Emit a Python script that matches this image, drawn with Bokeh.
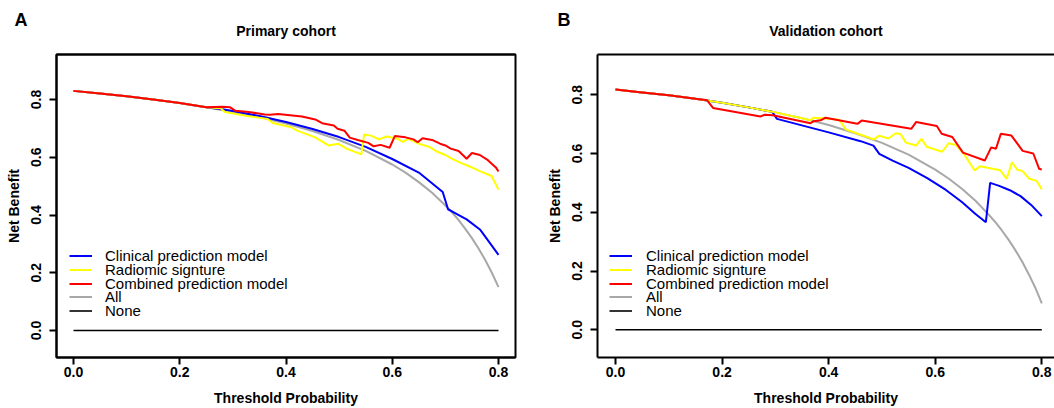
from bokeh.plotting import figure
from bokeh.layouts import row
from bokeh.models import (Range1d, FixedTicker, Legend, LegendItem, Title,
                          LinearAxis, NumeralTickFormatter)
from bokeh.embed import file_html
from bokeh.resources import INLINE

# ---------------- data ----------------
x_ticks = [0.0, 0.2, 0.4, 0.6, 0.8]
y_ticks = [0.0, 0.2, 0.4, 0.6, 0.8]
series_names = ["Clinical prediction model", "Radiomic signture",
                "Combined prediction model", "All", "None"]
none_t = [0.0, 0.8]
none_nb = [0.0, 0.0]

# Panel A - Primary cohort
A_all_t = [0, 0.05, 0.10, 0.15, 0.20, 0.25, 0.30, 0.35, 0.40, 0.45, 0.50, 0.55, 0.60,
           0.625, 0.65, 0.675, 0.70, 0.7125, 0.725, 0.7375, 0.75, 0.7625, 0.775, 0.7875, 0.80]
A_all = [0.830, 0.821, 0.811, 0.800, 0.788, 0.773, 0.757, 0.739, 0.717, 0.691, 0.660, 0.622, 0.575,
         0.547, 0.514, 0.477, 0.433, 0.409, 0.382, 0.352, 0.320, 0.284, 0.244, 0.200, 0.150]
A_clin_t = [0, 0.05, 0.10, 0.15, 0.20, 0.25, 0.28, 0.30, 0.35, 0.40, 0.45, 0.50, 0.55, 0.60,
            0.65, 0.695, 0.705, 0.72, 0.74, 0.765, 0.775, 0.80]
A_clin = [0.830, 0.821, 0.811, 0.800, 0.788, 0.773, 0.766, 0.760, 0.743, 0.722, 0.698, 0.670, 0.636, 0.594,
          0.547, 0.480, 0.420, 0.405, 0.385, 0.350, 0.325, 0.262]
A_rad_t = [0, 0.05, 0.10, 0.15, 0.20, 0.25, 0.277, 0.285, 0.33, 0.365, 0.375, 0.41, 0.42, 0.455,
           0.48, 0.498, 0.515, 0.542, 0.547, 0.56, 0.575, 0.59, 0.61, 0.62, 0.63, 0.65, 0.67,
           0.685, 0.70, 0.71, 0.73, 0.745, 0.765, 0.787, 0.80]
A_rad = [0.830, 0.821, 0.811, 0.800, 0.788, 0.773, 0.770, 0.757, 0.742, 0.733, 0.719, 0.704, 0.693, 0.669,
         0.641, 0.647, 0.629, 0.610, 0.679, 0.675, 0.662, 0.672, 0.664, 0.653, 0.664, 0.647, 0.636,
         0.619, 0.608, 0.597, 0.580, 0.569, 0.552, 0.535, 0.488]
A_comb_t = [0, 0.05, 0.10, 0.15, 0.20, 0.25, 0.28, 0.295, 0.305, 0.33, 0.36, 0.37, 0.385, 0.43,
            0.455, 0.468, 0.49, 0.497, 0.51, 0.52, 0.535, 0.555, 0.565, 0.578, 0.595, 0.605,
            0.625, 0.64, 0.648, 0.657, 0.675, 0.69, 0.70, 0.71, 0.725, 0.74, 0.75, 0.765,
            0.78, 0.795, 0.80]
A_comb = [0.830, 0.821, 0.811, 0.800, 0.788, 0.773, 0.775, 0.773, 0.761, 0.757, 0.748, 0.747, 0.750, 0.741,
          0.731, 0.718, 0.710, 0.699, 0.692, 0.668, 0.660, 0.650, 0.638, 0.643, 0.633, 0.674,
          0.669, 0.662, 0.652, 0.666, 0.660, 0.647, 0.641, 0.630, 0.622, 0.595, 0.615, 0.608,
          0.590, 0.565, 0.551]

# Panel B - Validation cohort
B_all_t = A_all_t
B_all = [0.818, 0.808, 0.798, 0.786, 0.773, 0.757, 0.740, 0.720, 0.697, 0.669, 0.636, 0.596, 0.545,
         0.515, 0.480, 0.440, 0.393, 0.367, 0.338, 0.307, 0.272, 0.234, 0.191, 0.144, 0.090]
B_clin_t = [0, 0.05, 0.10, 0.15, 0.20, 0.25, 0.294, 0.303, 0.40, 0.46, 0.484, 0.495, 0.52, 0.55,
            0.585, 0.62, 0.65, 0.675, 0.695, 0.703, 0.72, 0.74, 0.76, 0.78, 0.80]
B_clin = [0.818, 0.808, 0.798, 0.786, 0.773, 0.757, 0.742, 0.718, 0.672, 0.642, 0.627, 0.599, 0.576, 0.551,
          0.516, 0.476, 0.435, 0.395, 0.366, 0.500, 0.490, 0.475, 0.455, 0.425, 0.387]
B_rad_t = [0, 0.05, 0.10, 0.15, 0.20, 0.25, 0.30, 0.35, 0.365, 0.372, 0.40, 0.42, 0.432, 0.46,
           0.485, 0.495, 0.512, 0.526, 0.535, 0.545, 0.564, 0.574, 0.584, 0.613, 0.625, 0.639,
           0.654, 0.674, 0.684, 0.722, 0.734, 0.744, 0.754, 0.764, 0.776, 0.79, 0.80]
B_rad = [0.818, 0.808, 0.798, 0.786, 0.773, 0.757, 0.740, 0.720, 0.713, 0.722, 0.718, 0.715, 0.682, 0.664,
         0.648, 0.661, 0.651, 0.669, 0.666, 0.637, 0.627, 0.650, 0.623, 0.606, 0.635, 0.629,
         0.598, 0.542, 0.557, 0.543, 0.514, 0.570, 0.545, 0.540, 0.515, 0.507, 0.478]
B_comb_t = [0, 0.05, 0.10, 0.15, 0.172, 0.183, 0.272, 0.28, 0.295, 0.366, 0.372, 0.385, 0.394,
            0.454, 0.462, 0.555, 0.564, 0.603, 0.612, 0.632, 0.652, 0.693, 0.705, 0.714, 0.723,
            0.743, 0.764, 0.784, 0.795, 0.80]
B_comb = [0.818, 0.808, 0.798, 0.786, 0.781, 0.755, 0.726, 0.732, 0.730, 0.703, 0.710, 0.713, 0.722,
          0.701, 0.712, 0.684, 0.707, 0.694, 0.667, 0.656, 0.603, 0.576, 0.621, 0.616, 0.667,
          0.661, 0.609, 0.600, 0.548, 0.545]

COL_CLIN = "#0000FF"
COL_RAD = "#FFFF00"
COL_COMB = "#FF0000"
COL_ALL = "#A8A8A8"
COL_NONE = "#000000"
FONT = "Liberation Sans"

LEGEND_Y = [92.7, 79.0, 65.4, 51.7, 38.1]


def make_panel(letter, title, letter_off, xr, yr, ml, mr, data, outline,
               leg_x, leg_standoff):
    all_t, all_v, clin_t, clin_v, rad_t, rad_v, comb_t, comb_v = data
    p = figure(width=527, height=408, output_backend="svg", toolbar_location=None,
               x_range=Range1d(*xr), y_range=Range1d(*yr),
               min_border_left=ml, min_border_right=mr, min_border_top=54,
               min_border_bottom=51)
    p.title.text = ""
    p.xgrid.visible = False
    p.ygrid.visible = False
    p.background_fill_color = "white"
    p.border_fill_color = "white"
    p.outline_line_color = "black" if outline else None
    p.outline_line_width = 2

    xa = p.below[0]
    ya = p.left[0]
    for ax in (xa, ya):
        ax.axis_line_width = 2
        ax.major_tick_line_width = 2
        ax.major_tick_out = 7
        ax.major_tick_in = 0
        ax.minor_tick_line_color = None
        ax.major_label_text_font = FONT
        ax.major_label_text_font_style = "bold"
        ax.major_label_text_font_size = "14px"
        ax.major_label_text_color = "black"
        ax.axis_label_text_font = FONT
        ax.axis_label_text_font_style = "bold"
        ax.axis_label_text_font_size = "14px"
        ax.axis_label_text_color = "black"
        ax.formatter = NumeralTickFormatter(format="0.0")
    xa.ticker = FixedTicker(ticks=x_ticks)
    ya.ticker = FixedTicker(ticks=y_ticks)
    ya.major_label_orientation = "vertical"
    xa.axis_label = "Threshold Probability"
    ya.axis_label = "Net Benefit"
    xa.major_label_standoff = 2
    xa.axis_label_standoff = 10
    ya.major_label_standoff = 8
    ya.axis_label_standoff = 7

    # top border of the box, carrying the panel title
    top = LinearAxis(major_tick_line_color=None, minor_tick_line_color=None,
                     major_tick_out=0, major_tick_in=0,
                     major_label_text_font_size="0px", major_label_standoff=0,
                     axis_line_width=2, axis_line_color="black",
                     ticker=FixedTicker(ticks=[]),
                     axis_label=title, axis_label_standoff=16,
                     axis_label_text_font=FONT, axis_label_text_font_style="bold",
                     axis_label_text_font_size="14px", axis_label_text_color="black",
                     axis_label_text_line_height=1.0)
    p.add_layout(top, "above")

    # panel letter
    p.add_layout(Title(text=letter, align="left", offset=letter_off, standoff=-20,
                       text_font=FONT, text_font_style="bold", text_font_size="18px",
                       text_color="black"), "above")

    r_all = p.line(all_t, all_v, line_color=COL_ALL, line_width=2)
    r_none = p.line(none_t, none_nb, line_color=COL_NONE, line_width=1.6)
    r_clin = p.line(clin_t, clin_v, line_color=COL_CLIN, line_width=2)
    r_rad = p.line(rad_t, rad_v, line_color=COL_RAD, line_width=2)
    r_comb = p.line(comb_t, comb_v, line_color=COL_COMB, line_width=2)

    for name, r, ly in zip(series_names, [r_clin, r_rad, r_comb, r_all, r_none], LEGEND_Y):
        leg = Legend(items=[LegendItem(label=name, renderers=[r])], location=(leg_x, ly),
                     border_line_color=None, background_fill_alpha=0, padding=0, margin=0,
                     spacing=0, glyph_width=23, glyph_height=13, label_height=13,
                     label_standoff=leg_standoff, label_text_font=FONT,
                     label_text_font_size="15px", label_text_line_height=0.9,
                     label_text_color="black")
        p.add_layout(leg)
    return p


pA = make_panel("A", "Primary cohort", -42, (-0.032, 0.832), (-0.0935, 0.956), 56, 12,
                (A_all_t, A_all, A_clin_t, A_clin, A_rad_t, A_rad, A_comb_t, A_comb), True,
                13, 13)
pB = make_panel("B", "Validation cohort", -40, (-0.0338, 0.8238), (-0.0943, 0.937), 70, 0,
                (B_all_t, B_all, B_clin_t, B_clin, B_rad_t, B_rad, B_comb_t, B_comb), False,
                12, 14)

layout = row(pA, pB)
open("out.html", "w").write(file_html(layout, INLINE))
